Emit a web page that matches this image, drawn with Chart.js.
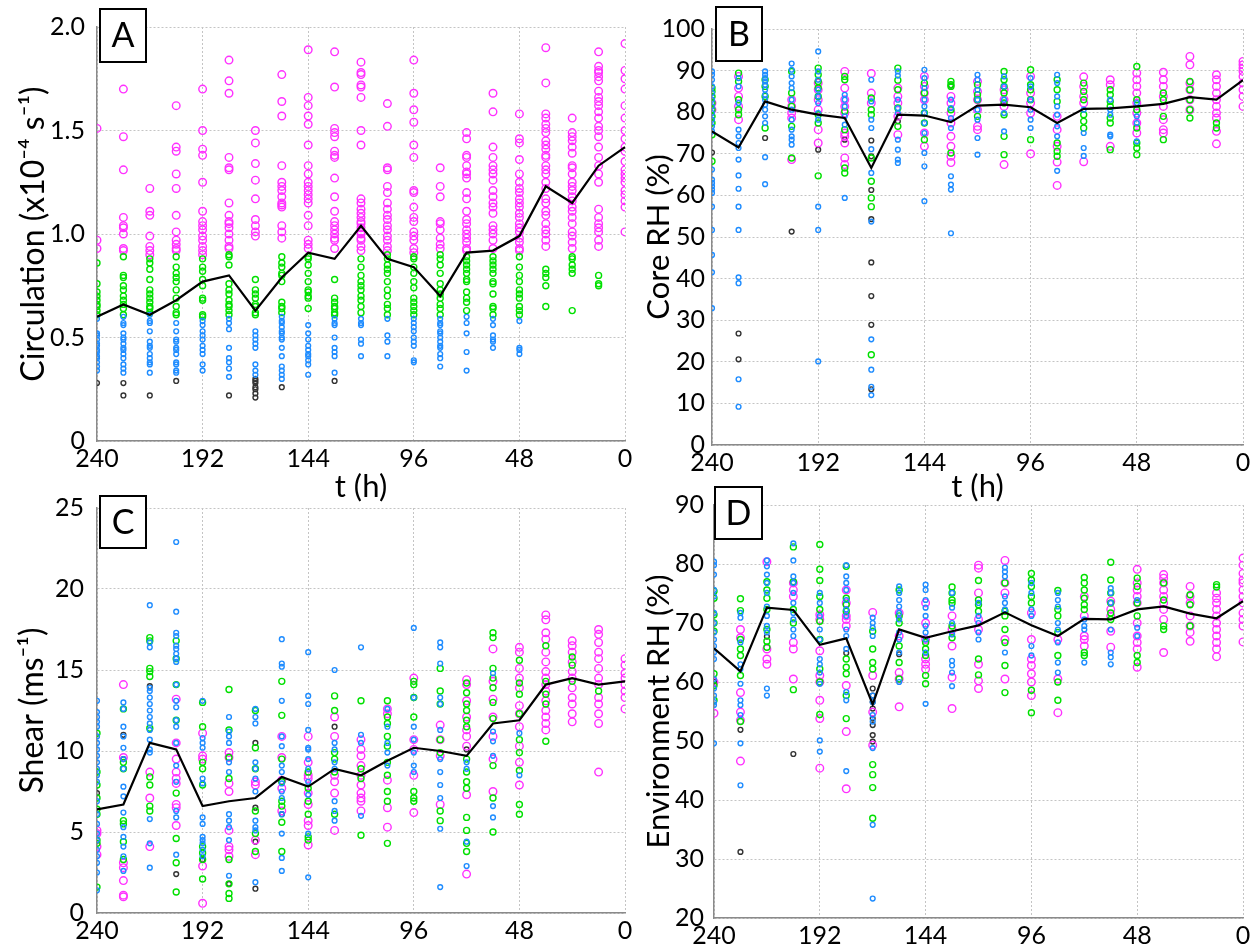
<!DOCTYPE html>
<html>
<head>
<meta charset="utf-8">
<title>Composite time series</title>
<script src="https://cdn.jsdelivr.net/npm/chart.js@4.4.1/dist/chart.umd.min.js"></script>
<style>
    body { margin: 0; background: #fff; }
    #graph-charts { position: relative; width: 1260px; height: 949px; overflow: hidden; }
    #graph-charts canvas { position: absolute; }
</style>
</head>
<body>
<div id="graph-charts">
    <canvas id="chart-circ" width="650" height="506" style="left:0;top:0"></canvas>
    <canvas id="chart-corerh" width="620" height="506" style="left:640px;top:0"></canvas>
    <canvas id="chart-shear" width="650" height="469" style="left:0;top:480px"></canvas>
    <canvas id="chart-envrh" width="620" height="469" style="left:640px;top:480px"></canvas>
</div>
<script>
// Hours before genesis, one column of cases every 12 h
var hours = [240, 228, 216, 204, 192, 180, 168, 156, 144, 132, 120, 108, 96, 84, 72, 60, 48, 36, 24, 12, 0];
var hourTicks = [240, 192, 144, 96, 48, 0];

// Circulation (x10^-4 s^-1)
var circMean = [0.60, 0.66, 0.61, 0.68, 0.77, 0.80, 0.63, 0.79, 0.91, 0.88, 1.04, 0.88, 0.84, 0.70, 0.91, 0.92, 0.99, 1.23, 1.15, 1.33, 1.42];
var circMagenta = [
    [1.51, 0.97, 0.93],
    [1.70, 1.47, 1.31, 1.08, 1.04, 1.03, 1.00, 0.93, 0.92],
    [1.22, 1.11, 1.09, 0.99, 0.94, 0.92, 0.90],
    [1.62, 1.42, 1.40, 1.29, 1.22, 1.09, 1.01, 0.97, 0.95, 0.93, 0.92],
    [1.70, 1.50, 1.41, 1.38, 1.25, 1.11, 1.06, 1.04, 1.02, 0.99, 0.97, 0.94, 0.92, 0.90],
    [1.84, 1.74, 1.68, 1.37, 1.32, 1.31, 1.15, 1.09, 1.06, 1.05, 1.03, 1.00, 0.97, 0.94, 0.93],
    [1.50, 1.44, 1.34, 1.26, 1.17, 1.07, 1.04, 1.01, 0.99],
    [1.77, 1.64, 1.57, 1.33, 1.25, 1.23, 1.21, 1.18, 1.15, 1.14, 1.13, 1.04, 1.01, 0.98],
    [1.89, 1.66, 1.62, 1.57, 1.53, 1.43, 1.33, 1.29, 1.25, 1.23, 1.21, 1.19, 1.17, 1.15, 1.09, 1.04, 0.97, 0.95, 0.93],
    [1.88, 1.71, 1.51, 1.49, 1.47, 1.40, 1.38, 1.37, 1.27, 1.18, 1.11, 1.06, 1.04, 1.02, 1.00, 0.98, 0.97, 0.93],
    [1.83, 1.78, 1.77, 1.72, 1.71, 1.66, 1.50, 1.43, 1.17, 1.15, 1.12, 1.10, 1.08, 1.06, 1.05, 1.03, 1.01, 1.00, 0.98, 0.97, 0.94, 0.92],
    [1.63, 1.52, 1.32, 1.31, 1.23, 1.20, 1.15, 1.12, 1.09, 1.07, 1.04, 1.02, 0.99, 0.97, 0.94, 0.92],
    [1.84, 1.68, 1.60, 1.54, 1.43, 1.37, 1.21, 1.20, 1.13, 1.08, 1.06, 1.01, 0.99, 0.97, 0.93, 0.91],
    [1.32, 1.23, 1.18, 1.06, 1.05, 1.02, 0.98, 0.95, 0.93],
    [1.49, 1.46, 1.38, 1.37, 1.33, 1.30, 1.29, 1.27, 1.20, 1.17, 1.11, 1.07, 1.05, 1.02, 1.00, 0.98, 0.96, 0.93, 0.92],
    [1.68, 1.59, 1.42, 1.37, 1.33, 1.31, 1.29, 1.26, 1.21, 1.18, 1.15, 1.13, 1.10, 1.04, 1.02, 1.00, 0.97, 0.93],
    [1.58, 1.46, 1.44, 1.36, 1.29, 1.25, 1.22, 1.20, 1.17, 1.15, 1.13, 1.10, 1.08, 1.05, 1.03, 1.01, 0.98, 0.96, 0.93, 0.92],
    [1.90, 1.73, 1.58, 1.56, 1.53, 1.51, 1.49, 1.45, 1.43, 1.41, 1.38, 1.37, 1.33, 1.31, 1.29, 1.25, 1.22, 1.17, 1.15, 1.11, 1.09, 1.05, 1.02, 1.00, 0.97, 0.94],
    [1.56, 1.49, 1.47, 1.45, 1.42, 1.39, 1.33, 1.32, 1.29, 1.25, 1.23, 1.21, 1.18, 1.16, 1.13, 1.11, 1.08, 1.05, 1.01, 0.99, 0.96, 0.93],
    [1.88, 1.81, 1.79, 1.78, 1.76, 1.74, 1.69, 1.66, 1.64, 1.62, 1.59, 1.56, 1.52, 1.50, 1.47, 1.42, 1.37, 1.33, 1.29, 1.25, 1.12, 1.08, 1.05, 1.03, 1.01, 0.97, 0.94],
    [1.92, 1.79, 1.75, 1.70, 1.62, 1.56, 1.50, 1.46, 1.42, 1.40, 1.35, 1.31, 1.29, 1.27, 1.25, 1.21, 1.19, 1.16, 1.13, 1.01]
];
var circGreen = [
    [0.86, 0.76, 0.72, 0.70, 0.68, 0.66, 0.65, 0.63, 0.61],
    [0.89, 0.80, 0.79, 0.75, 0.73, 0.70, 0.68, 0.66, 0.64, 0.61],
    [0.88, 0.86, 0.83, 0.78, 0.73, 0.71, 0.69, 0.67, 0.65, 0.64, 0.62],
    [0.89, 0.84, 0.81, 0.79, 0.77, 0.73, 0.69, 0.65, 0.62, 0.61],
    [0.88, 0.84, 0.82, 0.78, 0.75, 0.69, 0.68, 0.61, 0.60],
    [0.90, 0.89, 0.85, 0.76, 0.73, 0.71, 0.68, 0.66, 0.65, 0.63, 0.61],
    [0.78, 0.73, 0.71, 0.69, 0.66, 0.65, 0.62, 0.61],
    [0.89, 0.86, 0.84, 0.81, 0.80, 0.77, 0.67, 0.65, 0.64, 0.62],
    [0.89, 0.88, 0.85, 0.81, 0.77, 0.73, 0.72, 0.70, 0.69, 0.64],
    [0.78, 0.69, 0.67, 0.65, 0.64, 0.62, 0.61],
    [0.88, 0.84, 0.80, 0.77, 0.75, 0.73, 0.70, 0.68, 0.65, 0.62],
    [0.90, 0.88, 0.85, 0.83, 0.81, 0.77, 0.73, 0.70, 0.66, 0.64, 0.61],
    [0.89, 0.88, 0.84, 0.81, 0.77, 0.74, 0.69, 0.67, 0.65, 0.63, 0.61],
    [0.90, 0.88, 0.85, 0.81, 0.76, 0.73, 0.71, 0.69, 0.66, 0.64, 0.61],
    [0.89, 0.87, 0.85, 0.83, 0.81, 0.78, 0.77, 0.72, 0.69, 0.67, 0.63],
    [0.89, 0.87, 0.85, 0.83, 0.81, 0.77, 0.76, 0.71, 0.65, 0.64, 0.61],
    [0.89, 0.84, 0.80, 0.77, 0.73, 0.71, 0.69, 0.65, 0.63, 0.61],
    [0.83, 0.81, 0.79, 0.75, 0.65],
    [0.89, 0.88, 0.85, 0.83, 0.81, 0.63],
    [0.80, 0.76, 0.75],
    []
];
var circBlue = [
    [0.59, 0.52, 0.51, 0.49, 0.47, 0.46, 0.44, 0.43, 0.41, 0.40, 0.38, 0.36, 0.34],
    [0.60, 0.57, 0.56, 0.52, 0.50, 0.49, 0.47, 0.45, 0.44, 0.42, 0.40, 0.37, 0.35, 0.33],
    [0.61, 0.58, 0.57, 0.53, 0.48, 0.46, 0.45, 0.42, 0.40, 0.38, 0.37, 0.33],
    [0.57, 0.53, 0.49, 0.48, 0.45, 0.44, 0.42, 0.38, 0.37, 0.34, 0.33],
    [0.58, 0.56, 0.53, 0.51, 0.49, 0.46, 0.44, 0.42, 0.37, 0.34],
    [0.59, 0.57, 0.54, 0.45, 0.40, 0.38, 0.35, 0.31],
    [0.53, 0.51, 0.49, 0.47, 0.45, 0.37, 0.34, 0.32],
    [0.60, 0.58, 0.57, 0.55, 0.53, 0.52, 0.50, 0.49, 0.45, 0.41, 0.36, 0.34, 0.32, 0.30],
    [0.56, 0.52, 0.49, 0.46, 0.44, 0.42, 0.41, 0.39, 0.37, 0.32],
    [0.59, 0.57, 0.56, 0.50, 0.45, 0.43, 0.41, 0.33],
    [0.59, 0.57, 0.56, 0.49, 0.47, 0.41],
    [0.59, 0.51, 0.48, 0.41],
    [0.59, 0.57, 0.55, 0.53, 0.50, 0.48, 0.46, 0.39, 0.38],
    [0.59, 0.57, 0.56, 0.53, 0.52, 0.50, 0.48, 0.46, 0.45, 0.42, 0.40, 0.36],
    [0.60, 0.57, 0.52, 0.43, 0.34],
    [0.59, 0.56, 0.51, 0.49, 0.48, 0.45],
    [0.58, 0.45, 0.44, 0.42],
    [], [], [], []
];
var circBlack = [[0.28], [0.28, 0.22], [0.22], [0.29], [], [0.22], [0.30, 0.29, 0.28, 0.26, 0.25, 0.23, 0.21], [0.26], [], [0.29],
    [], [], [], [], [], [], [], [], [], [], []];

// Core RH (%)
var coreMean = [75.4, 71.5, 82.6, 80.6, 79.4, 78.6, 66.6, 79.4, 79.2, 77.6, 81.6, 81.8, 81.2, 77.4, 80.8, 80.9, 81.4, 82.0, 83.6, 83.0, 87.7];
var coreMagenta = [
    [82.2, 80.6],
    [88.6, 85.8, 83.8, 81.4, 78.2],
    [],
    [83.0, 81.4, 79.8, 78.6, 68.6],
    [87.0, 85.4, 83.0, 80.6, 75.8, 72.6],
    [89.8, 85.8, 83.0, 81.4, 79.8, 75.0, 74.2, 72.6, 69.0, 67.4],
    [89.3, 84.6, 82.2],
    [85.8, 83.8, 82.2, 79.0, 74.6],
    [88.6, 86.2, 84.6, 83.0, 75.0, 71.8],
    [83.8, 82.2, 79.8, 77.4, 74.2, 71.8, 69.4, 67.9],
    [87.4, 85.0, 83.0, 80.6, 76.6, 75.8],
    [85.4, 83.0, 81.4, 67.4],
    [88.6, 84.6, 82.2, 79.8, 70.0],
    [79.0, 75.8, 71.8, 68.0, 62.4],
    [88.5, 86.2, 83.8, 82.2, 68.1],
    [87.8, 86.6, 71.8],
    [89.4, 87.8, 86.2, 84.6, 82.2, 79.8, 77.4, 75.0],
    [89.6, 87.8, 86.2, 83.8, 81.4, 78.2, 75.8, 75.0],
    [93.4, 91.4, 87.0, 85.4, 83.0, 80.6],
    [89.0, 87.8, 86.2, 84.6, 83.0, 81.4, 79.8, 78.6, 75.4, 72.4],
    [92.2, 91.4, 90.6, 89.8, 88.6, 87.0, 85.4, 83.8, 81.4]
];
var coreGreen = [
    [85.8, 85.0, 83.8, 82.2, 80.6, 79.0, 77.4, 74.6, 68.2],
    [89.4, 87.4, 83.0, 80.6, 79.4],
    [87.8, 86.2, 83.8, 76.2],
    [89.8, 84.6, 81.4, 76.6, 69.0],
    [90.6, 89.0, 87.4, 85.8, 83.8, 79.4, 77.4, 64.7],
    [88.6, 87.8, 80.2, 75.8, 66.6, 65.4],
    [83.4, 80.6, 79.4, 69.0, 63.4, 59.4, 57.3, 21.7],
    [90.6, 87.7, 85.4, 81.0, 76.6],
    [87.0, 84.6, 79.8, 77.4, 73.4],
    [87.4, 86.6, 86.2, 80.6, 70.2],
    [86.6, 84.2, 83.0, 79.0],
    [89.8, 87.8, 86.2, 84.6, 82.2, 79.4, 74.2, 69.8],
    [90.2, 86.6, 85.4, 83.0, 73.4],
    [87.8, 85.4, 82.6, 72.6, 70.6, 69.4],
    [87.0, 85.0, 83.0, 79.4, 77.8, 76.2],
    [85.4, 84.2, 82.6, 81.4, 78.6, 77.4, 71.0],
    [91.0, 83.0, 80.6, 76.2, 72.6, 71.4, 69.8],
    [84.6, 83.0, 79.0, 73.4],
    [87.4, 85.4, 83.0, 80.6, 78.6],
    [77.4, 76.2],
    []
];
var coreBlue = [
    [89.8, 89.0, 87.8, 86.2, 84.6, 83.0, 81.4, 79.8, 78.2, 76.6, 75.4, 66.2, 63.8, 63.0, 62.2, 61.4, 60.6, 57.3, 51.7, 45.7, 41.5, 32.9],
    [88.2, 86.2, 82.2, 75.8, 74.2, 72.6, 71.4, 68.6, 64.8, 61.6, 57.3, 51.7, 40.3, 38.9, 15.8, 9.2],
    [89.8, 89.0, 88.2, 87.4, 86.6, 85.4, 84.2, 83.0, 81.8, 80.6, 79.0, 77.4, 69.2, 62.7],
    [91.7, 90.2, 88.6, 87.0, 85.8, 83.0, 80.6, 78.2, 75.8, 74.2, 73.4, 72.2],
    [94.6, 89.8, 87.8, 85.4, 83.8, 82.2, 79.8, 78.2, 57.3, 51.7, 20.1],
    [84.2, 83.0, 81.4, 79.0, 77.0, 59.4],
    [87.8, 82.6, 78.2, 76.2, 71.1, 65.4, 53.7, 25.4, 18.1, 14.0, 12.0],
    [89.8, 88.8, 83.0, 81.0, 79.8, 73.4, 71.0, 68.6, 67.8],
    [90.2, 88.2, 85.8, 83.0, 81.4, 79.8, 77.4, 75.0, 70.2, 67.0, 58.6],
    [83.0, 81.0, 78.6, 76.2, 64.6, 62.6, 61.4, 50.9],
    [89.0, 87.8, 85.4, 83.0, 80.6, 78.2, 73.8, 69.8],
    [88.6, 86.2, 83.0, 79.8, 75.4],
    [88.2, 86.2, 83.0, 80.6, 78.2, 76.2],
    [89.0, 87.0, 83.8, 81.4, 79.4, 76.6, 74.2, 65.9],
    [80.6, 75.0, 71.4, 69.5],
    [83.0, 80.6, 79.4, 74.6, 74.2],
    [82.2, 79.0, 77.4, 73.0],
    [], [], [], []
];
var coreBlack = [[70.3], [26.8, 20.6], [73.8], [51.3], [71.0], [73.4], [73.2, 69.4, 61.3, 54.3, 43.9, 35.8, 28.9, 13.4], [77.8], [], [86.4],
    [], [], [], [], [], [], [], [], [], [], []];

// Shear (m s^-1)
var shearMean = [6.4, 6.7, 10.5, 10.1, 6.6, 6.9, 7.1, 8.4, 7.8, 8.9, 8.5, 9.4, 10.2, 10.0, 9.7, 11.7, 11.9, 14.1, 14.5, 14.1, 14.3];
var shearMagenta = [
    [5.1, 4.9, 4.1, 3.6],
    [14.1, 9.6, 3.1, 2.8, 2.0, 1.1, 1.0],
    [8.7, 7.1, 4.1],
    [13.2, 10.5, 9.5, 8.7, 8.3, 8.0, 6.7, 6.5, 5.4],
    [11.1, 9.7, 9.5, 2.9, 0.6],
    [9.9, 9.6, 8.0, 7.5, 5.1, 4.1, 3.9, 3.5],
    [8.1, 7.9, 4.5, 3.6],
    [10.9, 9.6, 8.2, 7.7, 6.3],
    [10.9, 9.3, 8.5, 8.3, 7.4, 6.7, 5.7, 5.4, 4.2],
    [12.1, 10.9, 8.5, 8.1, 7.4, 5.1],
    [10.7, 10.1, 9.7, 9.1, 8.5, 7.9, 7.4, 7.1, 6.9, 6.3],
    [12.6, 12.3, 8.2, 6.5, 5.3],
    [14.5, 10.7, 10.1, 8.5, 6.2],
    [11.6, 10.7, 9.7, 6.7],
    [14.4, 14.1, 13.1, 12.1, 11.3, 10.9, 10.3, 7.3, 2.4],
    [16.3, 14.3, 13.2, 12.1, 10.9, 9.5, 7.5],
    [16.4, 16.1, 15.1, 14.5, 13.9, 12.8, 12.3, 11.5, 10.3, 9.3, 7.9],
    [18.4, 18.1, 17.3, 16.9, 16.1, 15.5, 14.9, 14.5, 14.1, 13.7, 13.1, 12.5, 12.1, 11.7, 11.3],
    [16.8, 16.5, 16.1, 15.5, 14.9, 14.5, 13.9, 13.3, 12.9, 12.3, 11.8],
    [17.5, 17.2, 16.7, 16.1, 15.7, 15.1, 14.5, 14.1, 13.3, 12.9, 12.3, 11.7, 8.7],
    [15.7, 15.3, 14.8, 14.5, 14.1, 13.7, 13.3, 12.6]
];
var shearGreen = [
    [11.1, 8.7, 7.9, 7.1, 6.4, 6.1, 4.5, 4.3, 1.6],
    [12.6, 9.3, 8.9, 5.7, 5.5, 4.4, 3.3],
    [17.0, 16.8, 15.1, 14.9, 14.6, 11.4, 8.4, 7.9, 6.6, 6.3],
    [16.8, 15.7, 14.1, 11.9, 7.4, 4.6, 3.1, 1.3],
    [13.0, 11.5, 9.3, 8.9, 7.9, 4.1, 3.7, 3.3, 2.1],
    [13.8, 11.3, 9.6, 8.3, 3.3, 1.8, 1.2, 0.9],
    [12.5, 10.2, 8.9, 6.3, 4.9, 3.8],
    [14.3, 12.2, 9.5, 8.1, 6.9, 6.6, 5.6, 3.8],
    [8.7, 7.7, 6.9, 6.1, 4.7, 4.5],
    [13.4, 12.5, 9.9, 9.5, 8.7, 6.1],
    [13.1, 8.9, 8.3, 4.8],
    [13.1, 12.1, 11.7, 10.9, 10.3, 9.3, 8.5, 7.5, 6.9, 4.3],
    [14.3, 14.1, 13.3, 12.1, 7.5, 7.1, 6.9],
    [15.1, 13.7, 12.9, 10.7, 9.9, 6.3, 5.7],
    [14.2, 13.6, 12.9, 12.5, 11.9, 11.5, 9.5, 8.7, 8.1, 7.7, 5.9, 5.1, 4.3, 3.8],
    [17.3, 17.0, 15.1, 14.5, 13.9, 13.0, 12.0, 9.1, 7.1, 5.0],
    [15.6, 14.2, 13.5, 12.3, 10.7, 9.9, 8.8, 6.7, 6.1],
    [16.5, 14.3, 13.5, 12.9, 10.6],
    [15.8, 15.3, 14.3],
    [13.7],
    []
];
var shearBlue = [
    [13.1, 12.4, 12.1, 11.8, 11.5, 10.9, 10.5, 10.1, 9.7, 9.3, 8.9, 8.5, 8.1, 6.9, 6.1, 5.5, 4.9, 4.5, 3.9, 3.5, 3.1, 2.5, 1.4],
    [13.0, 12.6, 11.5, 10.9, 10.2, 9.5, 8.9, 7.8, 7.2, 6.2, 5.3, 4.7, 4.1, 3.5, 2.6],
    [19.0, 16.7, 16.4, 13.9, 13.7, 13.3, 12.9, 12.5, 12.1, 11.7, 11.3, 10.7, 10.1, 9.9, 5.8, 4.3, 2.8],
    [22.9, 18.6, 17.3, 17.1, 16.5, 16.3, 16.0, 15.7, 15.5, 14.1, 13.1, 12.7, 11.9, 11.5, 10.5, 9.1, 8.1, 6.3, 5.9, 3.6],
    [13.1, 10.8, 10.5, 10.2, 8.3, 8.0, 5.9, 5.5, 4.7, 4.5, 4.3, 3.9, 3.5],
    [12.1, 11.2, 10.9, 10.5, 9.3, 8.7, 6.1, 5.7, 5.3, 4.5, 2.3],
    [12.6, 12.1, 11.7, 9.3, 8.9, 8.3, 7.5, 5.7, 5.3, 5.1, 1.9],
    [16.9, 15.4, 15.2, 13.1, 10.9, 10.3, 9.1, 8.7, 8.0, 7.5, 7.1, 6.1, 4.9, 3.4, 2.6],
    [16.1, 13.4, 12.9, 11.3, 10.2, 10.1, 9.5, 8.9, 8.1, 7.3, 4.9, 2.2],
    [15.0, 10.5, 10.1, 9.3, 8.9, 6.9, 6.3, 5.7],
    [16.4, 11.0, 10.5, 6.0],
    [12.6, 11.5, 10.5, 9.9, 9.1],
    [17.6, 13.3, 11.5, 10.7, 9.9, 9.1, 8.7],
    [16.7, 16.4, 15.4, 13.3, 12.9, 11.3, 9.5, 8.7, 7.9, 7.1, 5.2, 1.6],
    [9.3, 8.9, 4.4, 2.9],
    [14.8, 11.2, 10.6, 9.7, 6.6, 5.9],
    [11.1, 8.5],
    [], [], [], []
];
var shearBlack = [[7.4], [11.0, 9.5], [14.0], [2.4], [3.3], [1.8], [10.5, 6.5, 4.4, 1.5], [6.1], [], [11.5],
    [], [], [], [], [10.1], [], [], [], [], [], []];

// Environment RH (%)
var envMean = [65.7, 61.8, 72.6, 72.2, 66.3, 67.4, 56.2, 68.9, 67.5, 68.6, 69.6, 71.8, 69.6, 67.8, 70.7, 70.6, 72.3, 72.8, 71.6, 70.8, 73.7];
var envMagenta = [
    [60.0, 54.7],
    [68.9, 67.5, 58.2, 54.9, 53.5, 46.6],
    [80.4, 65.6, 63.9, 63.0],
    [76.8, 75.6, 74.5, 66.7, 65.6, 60.5],
    [71.4, 70.6, 65.3, 61.1, 60.0, 56.9, 53.8, 45.4],
    [75.6, 73.4, 71.2, 70.6, 69.5, 59.4, 51.6, 41.9],
    [71.8, 61.1, 54.9, 49.3],
    [71.7, 67.8, 61.6, 60.5, 55.8],
    [73.4, 70.0, 67.2, 63.9, 63.0, 62.2],
    [71.2, 68.9, 66.1, 60.8, 55.5],
    [79.8, 79.3, 75.1, 70.6, 68.9, 63.0, 60.2, 58.9],
    [80.6, 76.8, 75.1, 67.2, 60.5],
    [71.7, 67.2, 63.9, 62.8, 61.4, 60.0, 57.7],
    [67.2, 60.5, 54.8],
    [74.5, 71.2, 67.8, 67.2, 66.1],
    [73.7, 72.3, 71.2, 68.6, 65.9],
    [79.1, 76.8, 75.6, 74.5, 73.4, 70.0, 67.8, 66.7, 65.6, 62.5],
    [78.2, 77.6, 76.8, 75.6, 74.5, 73.4, 72.3, 70.6, 65.0],
    [76.2, 74.5, 73.4, 71.2, 69.5, 68.4, 66.9],
    [75.1, 74.2, 73.4, 72.3, 71.2, 70.0, 68.9, 67.8, 66.7, 65.6, 64.3],
    [81.0, 79.8, 78.4, 77.3, 76.8, 75.6, 74.5, 73.4, 71.7, 70.6, 69.5, 66.8]
];
var envGreen = [
    [75.4, 74.2, 71.4, 70.0, 68.6, 61.4, 59.4, 56.9],
    [74.1, 72.1, 67.2, 65.6, 64.5, 61.1, 53.3],
    [77.0, 75.6, 74.2, 72.3, 68.9, 66.9, 65.9],
    [82.9, 77.0, 72.3, 70.0, 58.7],
    [83.3, 79.1, 77.2, 74.5, 72.3, 70.3, 67.2, 62.2, 60.0, 54.5],
    [79.6, 74.2, 73.1, 72.0, 63.9, 62.5, 61.4, 57.7, 53.8],
    [68.6, 65.6, 63.3, 62.2, 46.0, 44.3, 42.1, 36.9],
    [75.6, 71.2, 70.0, 66.1, 63.3, 60.5],
    [66.7, 65.6, 64.5, 61.1, 59.7],
    [76.1, 75.1, 73.9, 73.4, 69.5, 67.5],
    [77.2, 73.9, 73.1, 72.0, 63.9, 61.2],
    [76.8, 72.0, 71.2, 68.9, 66.7, 62.8, 58.2],
    [78.4, 77.3, 76.2, 74.5, 73.4, 58.6, 54.8],
    [75.5, 72.3, 71.2, 68.4, 64.5, 60.0, 56.9],
    [77.7, 76.8, 75.6, 74.2, 73.1, 72.3, 65.0, 64.5],
    [80.3, 77.3, 75.1, 73.4, 71.7, 70.6],
    [77.6, 76.2, 73.4, 71.2, 64.5, 63.3],
    [76.8, 73.9, 69.5, 68.9],
    [74.8, 73.1, 69.5],
    [76.5, 76.1],
    []
];
var envBlue = [
    [80.4, 79.8, 78.2, 75.6, 74.5, 71.7, 70.0, 68.4, 67.2, 66.1, 65.0, 63.9, 60.5, 58.9, 57.7, 56.6, 56.1, 49.6],
    [71.7, 70.9, 66.7, 63.0, 62.2, 59.7, 56.9, 56.1, 54.4, 49.6, 42.5],
    [80.6, 79.6, 78.2, 76.8, 75.1, 72.8, 71.2, 69.5, 68.4, 58.9, 57.7],
    [83.5, 80.6, 77.9, 76.8, 75.1, 73.4, 71.7, 70.6, 68.9, 67.8],
    [75.1, 73.4, 71.2, 68.9, 67.2, 63.9, 63.0, 61.6, 59.7, 50.1, 48.2],
    [79.8, 77.9, 76.8, 75.6, 73.9, 72.3, 71.2, 68.9, 67.8, 65.6, 58.3, 56.9, 44.9],
    [70.9, 70.0, 69.2, 67.8, 57.7, 56.6, 54.4, 53.3, 48.8, 35.8, 23.3],
    [76.2, 75.1, 73.9, 72.8, 71.7, 70.6, 68.4, 67.2, 65.0, 60.0],
    [76.5, 75.6, 73.9, 72.6, 71.2, 69.5, 68.4, 67.2, 65.0, 56.3],
    [75.1, 72.6, 70.0, 68.1, 63.6, 62.8, 61.6, 59.3],
    [73.4, 71.2, 70.0, 68.4, 67.2],
    [79.4, 78.7, 77.9, 74.5, 73.4, 72.3, 65.0],
    [76.8, 75.1, 72.3, 71.2, 66.1, 64.5],
    [75.1, 73.9, 72.8, 70.0, 68.9, 66.7, 63.3, 61.6],
    [70.6, 69.5, 68.9, 63.3],
    [75.9, 75.1, 73.4, 68.9, 65.0, 64.2, 63.0],
    [73.9, 69.2, 67.8],
    [], [], [], []
];
var envBlack = [[60.1], [51.9, 31.2], [67.7], [47.8], [], [64.9], [58.9, 57.7, 56.6, 55.5, 53.8, 52.7, 51.0, 49.9], [64.7], [], [68.1],
    [], [], [], [], [], [], [], [], [], [], []];

var FONT = "Lato, 'DejaVu Sans', sans-serif";

// Boxed panel letter in the upper left corner
var panelTag = {
    id: "panelTag",
    afterDraw: function (chart, args, opts) {
        if (!opts.text) {
            return;
        }
        var ctx = chart.ctx;
        var area = chart.chartArea;
        var x = area.left + opts.dx;
        var y = area.top + opts.dy;
        ctx.save();
        ctx.fillStyle = "#fff";
        ctx.fillRect(x, y, opts.w, opts.h);
        ctx.lineWidth = 2;
        ctx.strokeStyle = "#000";
        ctx.strokeRect(x, y, opts.w, opts.h);
        ctx.fillStyle = "#000";
        ctx.font = "34px " + FONT;
        ctx.textAlign = "center";
        ctx.textBaseline = "middle";
        ctx.fillText(opts.text, x + opts.w / 2, y + opts.h / 2 + 1);
        ctx.restore();
    }
};

// Flatten per-column lists into scatter points
function ToPoints(columns) {
    var points = [];
    columns.forEach(function (vals, i) {
        vals.forEach(function (v) {
            points.push({ x: hours[i], y: v });
        });
    });
    return points;
}

function CreateScatter(columns, colour, radius, order) {
    return {
        data: ToPoints(columns),
        borderColor: colour,
        backgroundColor: "rgba(0,0,0,0)",
        pointRadius: radius,
        pointHoverRadius: radius,
        pointBorderWidth: 1.4,
        order: order
    };
}

function CreateMean(values) {
    return {
        data: hours.map(function (h, i) { return { x: h, y: values[i] }; }),
        showLine: true,
        borderColor: "#000",
        borderWidth: 2.2,
        pointRadius: 0,
        order: 0
    };
}

function CreateDataSet(mean, magenta, green, blue, black) {
    return {
        datasets: [
            CreateMean(mean),
            CreateScatter(blue, "#1e8cff", 2.4, 1),
            CreateScatter(green, "#00e000", 3.0, 2),
            CreateScatter(magenta, "#ff30ff", 3.8, 3),
            CreateScatter(black, "#333333", 2.4, 4)
        ]
    };
}

function CreateOptions(p) {
    return {
        responsive: false,
        animation: false,
        layout: { padding: p.padding },
        plugins: {
            legend: { display: false },
            tooltip: { enabled: false },
            panelTag: p.tag
        },
        scales: {
            x: {
                type: "linear",
                reverse: true,
                min: 0,
                max: 240,
                afterBuildTicks: function (scale) {
                    scale.ticks = hourTicks.map(function (v) { return { value: v }; });
                },
                afterFit: function (scale) { scale.height = p.xHeight; },
                ticks: { color: "#000", padding: 3, maxRotation: 0, font: { family: FONT, size: 25 } },
                grid: { color: "#c4c4c4", lineWidth: 1, drawTicks: false },
                border: { display: true, color: "#8a8a8a", width: 1.5, dash: [2, 2] },
                title: {
                    display: p.xTitle !== "",
                    text: p.xTitle,
                    color: "#000",
                    padding: { top: 0, bottom: 0 },
                    font: { family: FONT, size: 31 }
                }
            },
            y: {
                type: "linear",
                min: p.yMin,
                max: p.yMax,
                afterBuildTicks: function (scale) {
                    scale.ticks = p.yTicks.map(function (v) { return { value: v }; });
                },
                afterFit: function (scale) { scale.width = p.yWidth; },
                ticks: {
                    color: "#000",
                    padding: p.yTickPad,
                    font: { family: FONT, size: 25 },
                    callback: p.yFormat
                },
                grid: { color: "#c4c4c4", lineWidth: 1, drawTicks: false },
                border: { display: true, color: "#8a8a8a", width: 1.5, dash: [2, 2] },
                title: {
                    display: true,
                    text: p.yTitle,
                    color: "#000",
                    padding: { top: p.yTitlePad, bottom: 0 },
                    font: { family: FONT, size: p.yTitleSize }
                }
            }
        }
    };
}

function CreateChart(element, data, options) {
    new Chart(element, {
        type: "scatter",
        data: data,
        options: options,
        plugins: [panelTag]
    });
}

function plain(v) { return String(v); }

// Circulation panel
CreateChart(document.getElementById("chart-circ"),
    CreateDataSet(circMean, circMagenta, circGreen, circBlue, circBlack),
    CreateOptions({
        padding: { top: 26, right: 25, left: 0, bottom: 0 },
        xHeight: 65, yWidth: 97, yTitlePad: 14, yTitleSize: 32, yTickPad: 12,
        yMin: 0, yMax: 2, yTicks: [0, 0.5, 1, 1.5, 2],
        yFormat: function (v) { return v === 0 ? "0" : v.toFixed(1); },
        xTitle: "t (h)", yTitle: "Circulation (x10\u207B\u2074 s\u207B\u00B9)",
        tag: { text: "A", dx: 3, dy: -18, w: 46, h: 53 }
    }));

// Core RH panel
CreateChart(document.getElementById("chart-corerh"),
    CreateDataSet(coreMean, coreMagenta, coreGreen, coreBlue, coreBlack),
    CreateOptions({
        padding: { top: 29, right: 17, left: 0, bottom: 0 },
        xHeight: 61, yWidth: 72, yTitlePad: 0, yTitleSize: 31, yTickPad: 7,
        yMin: 0, yMax: 100, yTicks: [0, 10, 20, 30, 40, 50, 60, 70, 80, 90, 100],
        yFormat: plain,
        xTitle: "t (h)", yTitle: "Core RH (%)",
        tag: { text: "B", dx: 4, dy: -22, w: 46, h: 54 }
    }));

// Shear panel
CreateChart(document.getElementById("chart-shear"),
    CreateDataSet(shearMean, shearMagenta, shearGreen, shearBlue, shearBlack),
    CreateOptions({
        padding: { top: 18, right: 25, left: 0, bottom: 0 },
        xHeight: 36, yWidth: 97, yTitlePad: 13, yTitleSize: 32, yTickPad: 13,
        yMin: 0, yMax: 25, yTicks: [0, 5, 10, 15, 20, 25],
        yFormat: plain,
        xTitle: "", yTitle: "Shear (ms\u207B\u00B9)",
        tag: { text: "C", dx: 3, dy: -12, w: 46, h: 52 }
    }));

// Environment RH panel
CreateChart(document.getElementById("chart-envrh"),
    CreateDataSet(envMean, envMagenta, envGreen, envBlue, envBlack),
    CreateOptions({
        padding: { top: 21, right: 17, left: 0, bottom: 0 },
        xHeight: 31, yWidth: 74, yTitlePad: 0, yTitleSize: 31, yTickPad: 10,
        yMin: 20, yMax: 90, yTicks: [20, 30, 40, 50, 60, 70, 80, 90],
        yFormat: plain,
        xTitle: "", yTitle: "Environment RH (%)",
        tag: { text: "D", dx: 1, dy: -18, w: 47, h: 52 }
    }));
</script>
</body>
</html>
